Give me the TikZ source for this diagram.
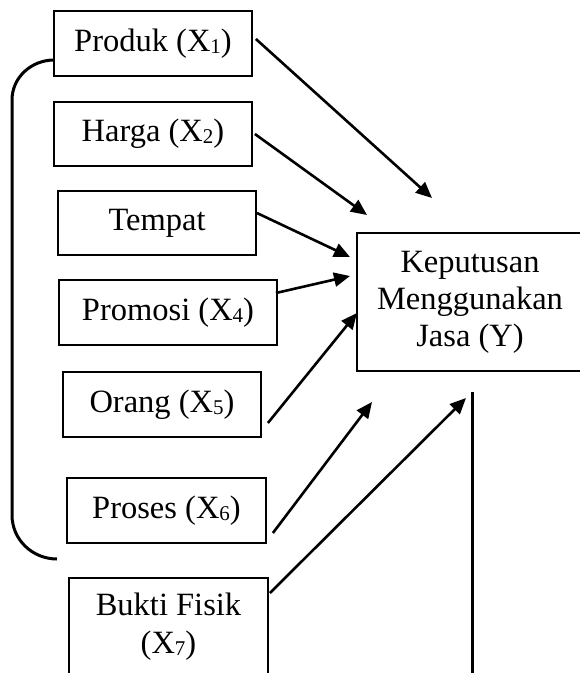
\documentclass[tikz,border=0pt]{standalone}
\usepackage{fontspec}
\setmainfont{Liberation Serif}
\usetikzlibrary{arrows.meta,calc}
\tikzset{
  varbox/.style={draw, line width=1.8pt, inner sep=0pt, align=center,
    font=\fontsize{32.5}{37}\selectfont},
  arr/.style={line width=2.6pt, -{Triangle[length=16pt,width=14pt]}},
  brace/.style={line width=3pt},
  plainline/.style={line width=3pt}
}
\newcommand{\sbs}[1]{\raisebox{-0.12ex}{\fontsize{21}{21}\selectfont #1}}
\begin{document}
\begin{tikzpicture}[x=1pt,y=-1pt]
\useasboundingbox (0,0) rectangle (580,673);
\clip (0,0) rectangle (580,673);
\node[varbox, minimum width=198pt, minimum height=65pt] (p1) at (153,43.5) {Produk (X\sbs{1})};
\node[varbox, minimum width=198pt, minimum height=64pt] (p2) at (153,134) {Harga (X\sbs{2})};
\node[varbox, minimum width=198pt, minimum height=64pt] (p3) at (157,223) {Tempat};
\node[varbox, minimum width=218pt, minimum height=65pt] (p4) at (168,312.5) {Promosi (X\sbs{4})};
\node[varbox, minimum width=198pt, minimum height=65pt] (p5) at (162,404.5) {Orang (X\sbs{5})};
\node[varbox, minimum width=199pt, minimum height=65pt] (p6) at (166.5,510.5) {Proses (X\sbs{6})};
\node[varbox, minimum width=199pt, minimum height=110pt, anchor=north, text depth=0pt] (p7) at (168.5,577) {};
\node[font=\fontsize{32.5}{38}\selectfont, align=center, anchor=north, inner sep=0pt] (p7t) at (168.5,593) {Bukti Fisik\\(X\sbs{7})};
\node[varbox, minimum width=226pt, minimum height=138pt] (y) at (470,302) {Keputusan\\Menggunakan\\Jasa (Y)};

\coordinate (e1) at (432,198);
\coordinate (e2) at (367,215);
\coordinate (e3) at (350,257);
\coordinate (e4) at (350,276);
\coordinate (e5) at (357,313);
\coordinate (e6) at (372,402);
\coordinate (e7) at (466,398);
\draw[arr] ([yshift=4.5pt]p1.east) ++(3,0) -- (e1);
\draw[arr] (p2.east) ++(2,0) -- (e2);
\draw[arr] ([yshift=10pt]p3.east) -- (e3);
\draw[arr] ([yshift=19.5pt]p4.east) ++(-2,0) -- (e4);
\draw[arr] ([yshift=-18.5pt]p5.east) ++(6,0) -- (e5);
\draw[arr] ([yshift=-22.5pt]p6.east) ++(6,0) -- (e6);
\draw[arr] ([yshift=-16pt]p7.north east) ++(1,0) -- (e7);

\coordinate (bend) at (57,559);
\draw[brace] ([yshift=-16.5pt]p1.west) ++(1,0) to[out=180,in=90] (12,100) -- (12,515) to[out=-90,in=180] (bend);

\coordinate (vt) at (472,392);
\coordinate (vb) at (472,680);
\draw[plainline] (vt) -- (vb);
\end{tikzpicture}
\end{document}
